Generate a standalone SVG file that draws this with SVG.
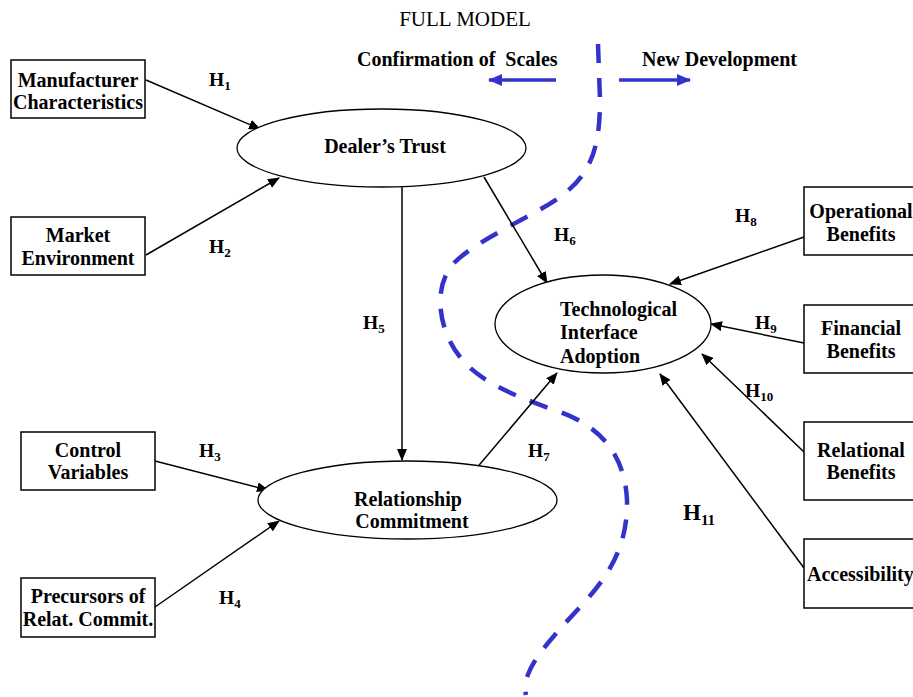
<svg xmlns="http://www.w3.org/2000/svg" width="913" height="697" viewBox="0 0 913 697">
<style>
.box{fill:#fff;stroke:#000;stroke-width:1.5}
.ell{fill:#fff;stroke:#000;stroke-width:1.3}
.t{font-family:"Liberation Serif",serif;font-weight:bold;font-size:20px;fill:#000}
.c{text-anchor:middle}
.h{font-family:"Liberation Serif",serif;font-weight:bold;font-size:19.5px;fill:#000}
.s{font-size:13px}
.edge{stroke:#000;stroke-width:1.5;fill:none;marker-end:url(#ah)}
.blue{stroke:#3333cc;stroke-width:3.5;fill:none}
</style>
<defs>
<marker id="ah" viewBox="0 0 12 10" refX="11" refY="5" markerWidth="12" markerHeight="10" markerUnits="userSpaceOnUse" orient="auto">
<path d="M0,0 L12,5 L0,10 z" fill="#000"/>
</marker>
<marker id="bh" viewBox="0 0 14 12" refX="13" refY="6" markerWidth="14" markerHeight="12" markerUnits="userSpaceOnUse" orient="auto">
<path d="M0,0 L14,6 L0,12 z" fill="#3333cc"/>
</marker>
</defs>
<rect width="913" height="697" fill="#fff"/>
<text x="465" y="26" font-family="Liberation Serif,serif" font-size="21" text-anchor="middle">FULL MODEL</text>
<text class="t" x="357" y="66" xml:space="preserve">Confirmation of  Scales</text>
<text class="t" x="642" y="66">New Development</text>

<g id="divider">
<path class="blue" d="M556,80 L489,80" marker-end="url(#bh)"/>
<path class="blue" d="M619,80 L690,80" marker-end="url(#bh)"/>
<path d="M598,44 L600,100 C600,150 590,175 560,197 C530,218 480,238 455,262 C432,285 438,330 460,357 C480,383 520,398 560,412 C600,426 625,455 627,500 C628,545 610,575 580,607 C550,640 520,670 526,695" fill="none" stroke="#3333cc" stroke-width="4.5" stroke-dasharray="19,15"/>
</g>

<g id="connectors">
<path class="edge" d="M146,80 L260,129"/>
<path class="edge" d="M146,255 L279,178"/>
<path class="edge" d="M155,461 L268,490"/>
<path class="edge" d="M155,607 L279,521"/>
<path class="edge" d="M402,187 L402,460"/>
<path class="edge" d="M484,177 L547,283"/>
<path class="edge" d="M475,470 L557,373"/>
<path class="edge" d="M804,237 L670,284"/>
<path class="edge" d="M804,343 L711,324"/>
<path class="edge" d="M804,452 L702,354"/>
<path class="edge" d="M804,568 L660,374"/>
</g>

<g id="labels">
<text class="h" x="209" y="86">H<tspan class="s" dy="4">1</tspan></text>
<text class="h" x="209" y="253">H<tspan class="s" dy="4">2</tspan></text>
<text class="h" x="199" y="457">H<tspan class="s" dy="4">3</tspan></text>
<text class="h" x="219" y="604">H<tspan class="s" dy="4">4</tspan></text>
<text class="h" x="363" y="329">H<tspan class="s" dy="4">5</tspan></text>
<text class="h" x="554" y="241">H<tspan class="s" dy="4">6</tspan></text>
<text class="h" x="528" y="457">H<tspan class="s" dy="4">7</tspan></text>
<text class="h" x="735" y="222">H<tspan class="s" dy="4">8</tspan></text>
<text class="h" x="755" y="329">H<tspan class="s" dy="4">9</tspan></text>
<text class="h" x="745" y="397">H<tspan class="s" dy="4">10</tspan></text>
<text class="h" x="683" y="520" style="font-size:23px">H<tspan style="font-size:15px" dy="5">11</tspan></text>
</g>

<g id="manufacturer">
<rect class="box" x="11" y="60" width="134" height="58"/>
<text class="t c" x="78" y="87">Manufacturer</text>
<text class="t c" x="78" y="109">Characteristics</text>
</g>
<g id="market">
<rect class="box" x="11" y="217" width="134" height="58"/>
<text class="t c" x="78" y="242">Market</text>
<text class="t c" x="78" y="265">Environment</text>
</g>
<g id="control">
<rect class="box" x="21" y="432" width="134" height="58"/>
<text class="t c" x="88" y="457">Control</text>
<text class="t c" x="88" y="479">Variables</text>
</g>
<g id="precursors">
<rect class="box" x="21" y="578" width="134" height="59"/>
<text class="t c" x="88" y="603">Precursors of</text>
<text class="t c" x="88" y="626">Relat. Commit.</text>
</g>
<g id="trust">
<ellipse class="ell" cx="381.5" cy="148" rx="144.5" ry="39"/>
<text class="t c" x="385" y="153">Dealer’s Trust</text>
</g>
<g id="commitment">
<ellipse class="ell" cx="407.5" cy="500" rx="149.5" ry="39"/>
<text class="t c" x="408" y="506">Relationship</text>
<text class="t c" x="412" y="528">Commitment</text>
</g>
<g id="adoption">
<ellipse class="ell" cx="603" cy="324" rx="108" ry="49"/>
<text class="t" x="560" y="316">Technological</text>
<text class="t" x="560" y="339">Interface</text>
<text class="t" x="560" y="363">Adoption</text>
</g>
<g id="operational">
<rect class="box" x="804" y="187" width="120" height="68"/>
<text class="t c" x="861" y="218">Operational</text>
<text class="t c" x="861" y="241">Benefits</text>
</g>
<g id="financial">
<rect class="box" x="804" y="305" width="120" height="68"/>
<text class="t c" x="861" y="335">Financial</text>
<text class="t c" x="861" y="358">Benefits</text>
</g>
<g id="relational">
<rect class="box" x="804" y="422" width="120" height="78"/>
<text class="t c" x="861" y="457">Relational</text>
<text class="t c" x="861" y="479">Benefits</text>
</g>
<g id="accessibility">
<rect class="box" x="804" y="539" width="120" height="69"/>
<text class="t" x="807" y="581">Accessibility</text>
</g>
</svg>
